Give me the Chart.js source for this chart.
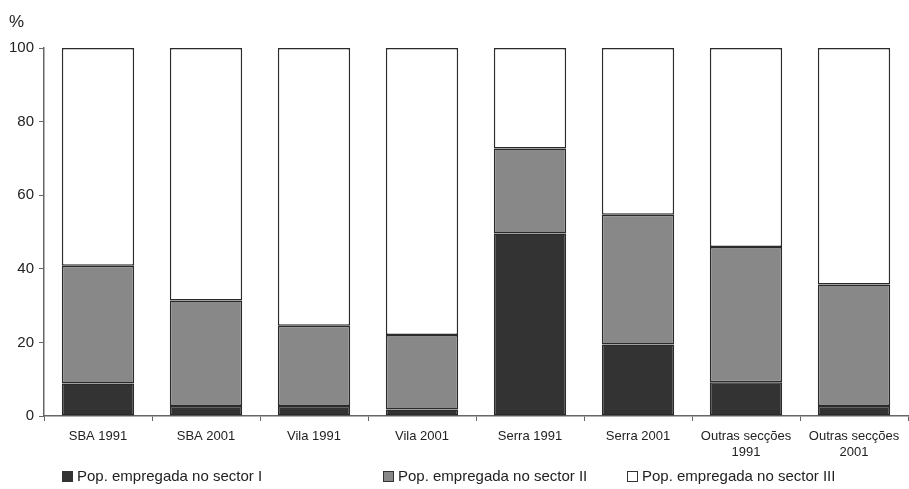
<!DOCTYPE html>
<html>
<head>
<meta charset="utf-8">
<script src="https://cdn.jsdelivr.net/npm/chart.js@4.4.0/dist/chart.umd.min.js"></script>
<style>
  html, body { margin: 0; padding: 0; background: #fff; }
  #wrap { position: relative; width: 909px; height: 489px; }
  #legend { position: absolute; left: 0; top: 0; width: 909px; height: 489px; pointer-events: none;
            font-family: 'Liberation Sans', Arial, sans-serif; font-size: 15px; color: #222; }
  .li { position: absolute; top: 467px; white-space: nowrap; line-height: 17px; }
  .sw { display: inline-block; width: 11px; height: 11px; border: 1px solid #333; vertical-align: -1px; margin-right: 4px; box-sizing: border-box; }
</style>
</head>
<body>
<div id="wrap">
  <canvas id="c" width="909" height="489"></canvas>
  <div id="legend"></div>
</div>
<script>
const categories = [
  ["SBA 1991"], ["SBA 2001"], ["Vila 1991"], ["Vila 2001"],
  ["Serra 1991"], ["Serra 2001"], ["Outras secções", "1991"], ["Outras secções", "2001"]
];
const sectorI   = [8.8, 2.7, 2.7, 1.8, 49.6, 19.4, 9.2, 2.7];
const sectorII  = [32.0, 28.7, 21.8, 20.2, 23.1, 35.3, 36.7, 33.0];
const sectorIII = [59.2, 68.6, 75.5, 78.0, 27.3, 45.3, 54.1, 64.3];
const seriesNames = ["Pop. empregada no sector I", "Pop. empregada no sector II", "Pop. empregada no sector III"];
const yTicks = [0, 20, 40, 60, 80, 100];

const colors = ["#333333", "#888888", "#ffffff"];
const legendX = [62, 383, 627];

const FONT = "'Liberation Sans', Arial, sans-serif";

const percentPlugin = {
  id: 'percentLabel',
  afterDraw(chart) {
    const ctx = chart.ctx;
    ctx.save();
    ctx.font = "17px " + FONT;
    ctx.fillStyle = "#222";
    ctx.textBaseline = "alphabetic";
    ctx.fillText("%", 9, 27);
    ctx.restore();
  }
};

new Chart(document.getElementById('c'), {
  type: 'bar',
  data: {
    labels: categories,
    datasets: [sectorI, sectorII, sectorIII].map((d, i) => ({
      label: seriesNames[i],
      data: d,
      backgroundColor: colors[i],
      borderColor: "#2a2a2a",
      borderWidth: 1.5,
      borderSkipped: false,
      categoryPercentage: 1.0,
      barPercentage: 0.67
    }))
  },
  options: {
    responsive: false,
    animation: false,
    layout: { padding: { top: 48, right: 1, left: 0, bottom: 0 } },
    plugins: { legend: { display: false }, tooltip: { enabled: false } },
    scales: {
      x: {
        stacked: true,
        grid: { display: true, drawOnChartArea: false, drawTicks: true, tickLength: 5, color: "#666", offset: true },
        border: { display: true, color: "#666", width: 1.5 },
        ticks: { color: "#222", font: { family: FONT, size: 13 }, maxRotation: 0, autoSkip: false, padding: 8 },
        afterFit(scale) { scale.height = 73; }
      },
      y: {
        stacked: true,
        min: 0, max: 100,
        afterBuildTicks(scale) { scale.ticks = yTicks.map(v => ({ value: v })); },
        grid: { display: true, drawOnChartArea: false, drawTicks: true, tickLength: 5, color: "#666" },
        border: { display: true, color: "#666", width: 1.5 },
        ticks: { color: "#222", font: { family: FONT, size: 15 }, padding: 5 },
        afterFit(scale) { scale.width = 44; }
      }
    }
  },
  plugins: [percentPlugin]
});

const lg = document.getElementById('legend');
seriesNames.forEach((n, i) => {
  const d = document.createElement('div');
  d.className = 'li';
  d.style.left = legendX[i] + 'px';
  d.innerHTML = '<span class="sw" style="background:' + colors[i] + '"></span>' + n;
  lg.appendChild(d);
});
</script>
</body>
</html>
